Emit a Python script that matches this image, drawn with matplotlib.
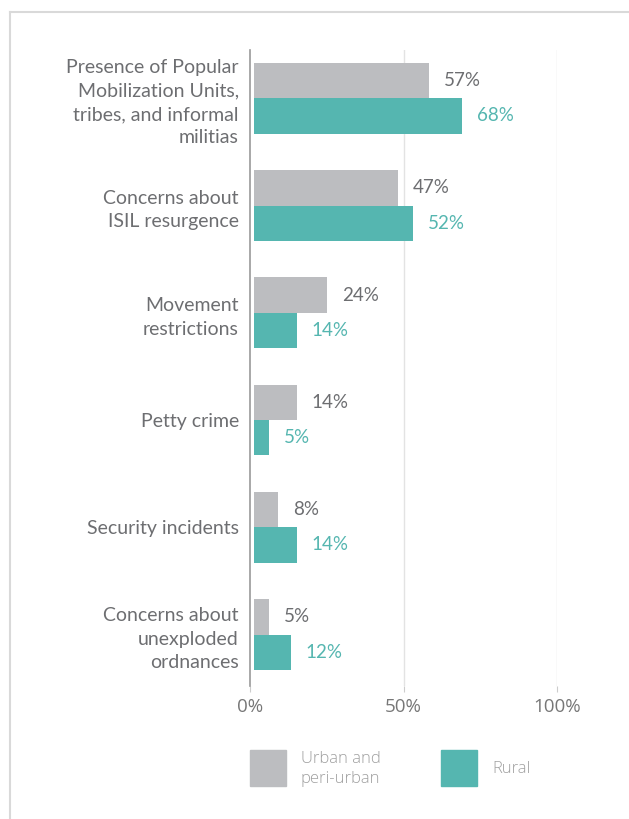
import numpy as np
import matplotlib.pyplot as plt
from matplotlib.patches import Rectangle
from matplotlib.lines import Line2D

# Data
categories = [
    'Presence of Popular\nMobilization Units,\ntribes, and informal\nmilitias',
    'Concerns about\nISIL resurgence',
    'Movement\nrestrictions',
    'Petty crime',
    'Security incidents',
    'Concerns about\nunexploded\nordnances',
]
urban = [57, 47, 24, 14, 8, 5]
rural = [68, 52, 14, 5, 14, 12]
xticks = [0, 50, 100]
series_names = ['Urban and\nperi-urban', 'Rural']

gray = '#BCBDC0'
teal = '#55B6B0'
text_gray = '#6D6E71'

W, H = 629, 819
fig = plt.figure(figsize=(W / 100, H / 100), dpi=100)

# outer frame (left and top only)
fig.add_artist(Line2D([10 / W, 10 / W], [0, 1 - 12 / H], color='#d9d9d9', lw=1.5))
fig.add_artist(Line2D([10 / W, 1], [1 - 12 / H, 1 - 12 / H], color='#d9d9d9', lw=1.5))

ax = fig.add_axes([250 / W, 1 - 686 / H, (557 - 250) / W, (686 - 50) / H])

y = np.arange(len(categories))
h = 0.33
ax.barh(y - h / 2, urban, height=h, color=gray, left=1.2)
ax.barh(y + h / 2, rural, height=h, color=teal, left=1.2)

for yi, u, r in zip(y, urban, rural):
    ax.text(u + 6, yi - h / 2, f'{u}%', va='center', ha='left',
            fontsize=13.5, color=text_gray, family='Lato')
    ax.text(r + 6, yi + h / 2, f'{r}%', va='center', ha='left',
            fontsize=13.5, color=teal, family='Lato')

ax.set_xlim(0, 100)
ax.set_ylim(len(categories) - 0.52, -0.45)
ax.set_yticks(y)
ax.set_yticklabels(categories, fontsize=14, color=text_gray, family='Lato',
                   linespacing=1.45)
ax.tick_params(axis='y', length=0, pad=8)
ax.set_xticks(xticks)
ax.set_xticklabels([f'{t}%' for t in xticks], fontsize=13.5, color='#777777',
                   family='Open Sans', fontweight='medium')
ax.tick_params(axis='x', length=4, color='#cccccc', pad=5)

for t in xticks[1:]:
    ax.axvline(t, color='#e3e3e3', lw=1, zorder=0)
for s in ['top', 'right', 'bottom']:
    ax.spines[s].set_visible(False)
ax.spines['left'].set_color('#999999')
ax.spines['left'].set_linewidth(1.2)

# legend
fig.add_artist(Rectangle((250 / W, 1 - 786 / H), 36 / W, 36 / H,
                         transform=fig.transFigure, color=gray))
fig.text(301 / W, 1 - 769 / H, series_names[0], va='center', ha='left',
         fontsize=12, color='#a0a0a0', family='Open Sans', fontweight='light',
         linespacing=1.35)
fig.add_artist(Rectangle((441 / W, 1 - 786 / H), 36 / W, 36 / H,
                         transform=fig.transFigure, color=teal))
fig.text(492 / W, 1 - 769 / H, series_names[1], va='center', ha='left',
         fontsize=12, color='#a0a0a0', family='Open Sans', fontweight='light')

fig.savefig('out.png', dpi=100)
